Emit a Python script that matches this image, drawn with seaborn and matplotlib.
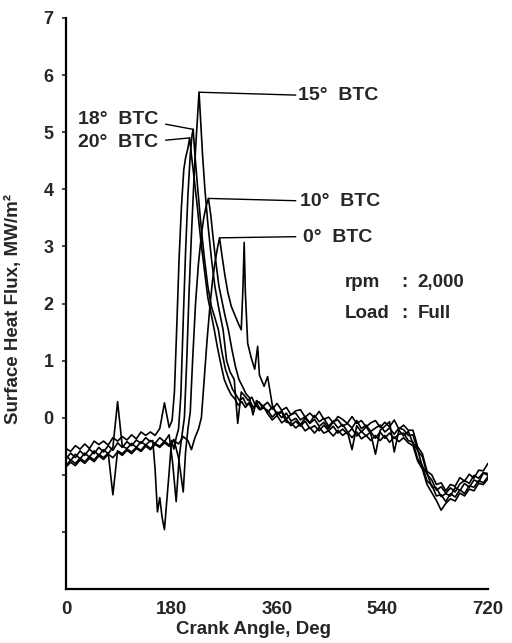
import matplotlib
matplotlib.use("Agg")
import matplotlib.pyplot as plt
import seaborn as sns
import pandas as pd
import numpy as np

# ---------------- data ----------------
tail_angles = [344, 352, 360, 368, 376, 384, 392, 400, 408, 416, 424, 432, 440, 448,
               456, 464, 472, 480, 488, 496, 504, 512, 520, 528, 536, 544, 552, 560,
               568, 576, 584, 592, 600, 608, 616, 624, 632, 640, 648, 656, 664, 672,
               680, 688, 696, 704, 712, 720]

# 20 deg BTC
angles_20 = [0, 8, 16, 24, 32, 40, 48, 56, 64, 72, 80, 88, 96, 104, 112, 120, 128, 136,
             144, 152, 160, 168, 176, 181, 185, 189, 193, 197, 201, 204, 208, 211, 214,
             218, 224, 230, 236, 242, 248, 253, 258, 264, 270, 276, 282, 288, 294, 300,
             306, 312, 318, 324, 330, 336] + tail_angles
flux_20 = [-0.54, -0.59, -0.49, -0.55, -0.46, -0.54, -0.41, -0.47, -0.41, -0.48, -0.35,
           -0.41, -0.33, -0.39, -0.30, -0.37, -0.25, -0.31, -0.25, -0.31, -0.19, 0.26,
           -0.17, -0.05, 0.45, 1.60, 2.80, 3.70, 4.35, 4.55, 4.72, 4.90, 4.60, 4.25, 3.70,
           3.10, 2.60, 2.10, 1.80, 1.54, 1.25, 0.95, 0.67, 0.52, 0.40, 0.33, 0.22, 0.28,
           0.18, 0.25, 0.15, 0.22, 0.14, 0.20,
           0.27, 0.15, 0.25, 0.13, 0.18, 0.05, 0.12, 0.14, 0.01, 0.08, 0.00, 0.11, -0.03,
           0.01, -0.09, 0.02, -0.03, -0.10, 0.02, -0.10, -0.05, -0.16, -0.09, -0.05, -0.17,
           -0.08, -0.16, -0.04, -0.20, -0.13, -0.22, -0.22, -0.51, -0.63, -0.94, -1.00,
           -1.17, -1.14, -1.28, -1.17, -1.20, -1.05, -1.11, -0.99, -1.06, -0.92, -0.93, -0.80]

# 18 deg BTC
angles_18 = [0, 8, 16, 24, 32, 40, 48, 56, 64, 72, 80, 88, 96, 104, 112, 120, 128, 136,
             144, 148, 152, 156, 160, 164, 168, 172, 176, 180, 184, 188, 192, 196, 200,
             204, 208, 212, 215, 217, 220, 224, 230, 236, 242, 248, 254, 260, 266, 272,
             278, 284, 290, 296, 302, 308, 314, 320, 326, 332, 338] + tail_angles
flux_18 = [-0.72, -0.62, -0.70, -0.58, -0.66, -0.55, -0.63, -0.52, -0.60, -0.49, -0.57,
           -0.44, -0.52, -0.42, -0.49, -0.39, -0.45, -0.35, -0.42, -0.40, -0.90, -1.65,
           -1.40, -1.75, -1.96, -1.45, -0.95, -0.40, -0.55, -0.35, -0.20, 0.40, 1.70,
           2.90, 3.90, 4.60, 4.95, 5.05, 4.60, 4.10, 3.40, 2.80, 2.30, 1.95, 1.75, 1.54,
           1.15, 0.85, 0.67, 0.50, 0.40, 0.30, 0.35, 0.22, 0.28, 0.18, 0.24, 0.14, 0.18,
           0.09, 0.19, 0.07, 0.12, -0.02, 0.06, 0.08, -0.04, 0.02, -0.09, 0.04, -0.07,
           -0.01, -0.15, -0.06, -0.04, -0.15, -0.10, -0.18, -0.05, -0.19, -0.13, -0.24,
           -0.18, -0.13, -0.25, -0.18, -0.29, -0.18, -0.21, -0.31, -0.30, -0.58, -0.68,
           -0.99, -1.09, -1.27, -1.21, -1.32, -1.23, -1.30, -1.16, -1.10, -1.15, -1.01,
           -1.06, -0.96, -0.98]

# 15 deg BTC
angles_15 = [0, 8, 16, 24, 32, 40, 48, 56, 64, 72, 80, 88, 96, 104, 112, 120, 128, 136,
             144, 152, 160, 168, 176, 182, 188, 193, 198, 202, 206, 210, 214, 218, 221,
             224, 227, 230, 233, 237, 242, 248, 254, 260, 268, 274, 280, 287, 293, 299,
             305, 311, 317, 323, 329, 335] + tail_angles
flux_15 = [-0.66, -0.75, -0.64, -0.72, -0.62, -0.69, -0.58, -0.66, -0.56, -0.63, -0.52,
           0.28, -0.50, -0.54, -0.45, -0.52, -0.42, -0.48, -0.40, -0.45, -0.35, -0.42,
           -0.30, -0.80, -1.47, -0.70, -0.30, 0.00, 1.00, 2.20, 3.20, 4.10, 4.70, 5.20,
           5.70, 5.15, 4.60, 4.00, 3.40, 2.80, 2.30, 1.95, 1.54, 1.00, 0.80, 0.67, -0.10,
           0.45, 0.38, 0.30, 0.36, 0.22, 0.28, 0.18,
           0.13, 0.01, 0.10, 0.00, 0.08, -0.06, -0.01, -0.12, -0.01, -0.10, -0.03, -0.15,
           -0.08, -0.19, -0.07, -0.18, -0.12, -0.24, -0.56, -0.14, -0.25, -0.16, -0.28,
           -0.64, -0.22, -0.15, -0.07, -0.60, -0.22, -0.32, -0.24, -0.45, -0.56, -0.86,
           -0.97, -1.21, -1.23, -1.38, -1.33, -1.37, -1.22, -1.28, -1.15, -1.22, -1.09,
           -1.13, -0.97, -1.01]

# 10 deg BTC
angles_10 = [0, 8, 16, 24, 32, 40, 48, 56, 64, 72, 80, 88, 96, 104, 112, 120, 128, 136,
             144, 152, 160, 168, 176, 184, 192, 196, 200, 204, 208, 212, 216, 221, 226,
             231, 235, 239, 243, 247, 251, 256, 261, 266, 271, 277, 283, 289, 295, 301,
             307, 313, 319, 325, 331, 337] + tail_angles
flux_10 = [-0.84, -0.74, -0.80, -0.71, -0.77, -0.68, -0.74, -0.64, -0.70, -0.62, -1.35,
           -0.58, -0.63, -0.55, -0.60, -0.52, -0.57, -0.47, -0.54, -0.45, -0.50, -0.41,
           -0.48, -0.38, -0.70, -1.00, -1.30, -0.60, -0.20, 0.10, 1.00, 2.00, 2.70, 3.20,
           3.50, 3.70, 3.84, 3.55, 3.15, 2.70, 2.30, 2.05, 1.80, 1.54, 1.20, 0.90, 0.67,
           0.55, 0.42, 0.35, 0.05, 0.30, 0.25, 0.20,
           0.07, -0.04, 0.04, -0.09, -0.03, -0.14, -0.06, -0.15, -0.06, -0.19, -0.14,
           -0.23, -0.13, -0.23, -0.15, -0.27, -0.20, -0.28, -0.19, -0.32, -0.24, -0.32,
           -0.25, -0.36, -0.25, -0.36, -0.27, -0.36, -0.29, -0.27, -0.40, -0.43, -0.72,
           -0.84, -1.11, -1.18, -1.37, -1.35, -1.47, -1.33, -1.39, -1.26, -1.33, -1.19,
           -1.22, -1.10, -1.14, -1.03]

# 0 deg BTC
angles_0 = [0, 8, 16, 24, 32, 40, 48, 56, 64, 72, 80, 88, 96, 104, 112, 120, 128, 136,
            144, 152, 160, 168, 176, 184, 192, 200, 208, 214, 220, 226, 231, 236, 241,
            246, 250, 254, 258, 262, 266, 271, 276, 282, 288, 294, 299, 302, 304, 306,
            310, 316, 322, 327, 330, 334, 338] + tail_angles
flux_0 = [-0.86, -0.78, -0.84, -0.74, -0.80, -0.71, -0.77, -0.67, -0.73, -0.64, -0.70,
          -0.60, -0.66, -0.57, -0.63, -0.54, -0.59, -0.50, -0.56, -0.47, -0.52, -0.44,
          -0.50, -0.40, -0.46, -0.33, -0.40, -0.56, -0.35, -0.20, 0.00, 0.70, 1.40, 2.00,
          2.40, 2.70, 2.95, 3.15, 2.85, 2.50, 2.20, 1.95, 1.80, 1.65, 1.54, 2.30, 3.07,
          2.20, 1.30, 1.05, 0.85, 1.25, 0.75, 0.65, 0.55,
          0.72, 0.22, 0.05, 0.10, -0.08, -0.09, -0.18, -0.11, -0.23, -0.17, -0.27, -0.17,
          -0.27, -0.23, -0.32, -0.22, -0.31, -0.25, -0.35, -0.25, -0.37, -0.31, -0.40,
          -0.31, -0.40, -0.31, -0.43, -0.34, -0.42, -0.35, -0.44, -0.49, -0.76, -0.90,
          -1.17, -1.31, -1.45, -1.62, -1.50, -1.42, -1.46, -1.32, -1.37, -1.25, -1.28,
          -1.15, -1.17, -1.07]

timings = ["20° BTC", "18° BTC", "15° BTC", "10° BTC", "0° BTC"]
x_ticks = [0, 180, 360, 540, 720]
y_ticks = [0, 1, 2, 3, 4, 5, 6, 7]

series = {
    "20° BTC": (angles_20, flux_20),
    "18° BTC": (angles_18, flux_18),
    "15° BTC": (angles_15, flux_15),
    "10° BTC": (angles_10, flux_10),
    "0° BTC": (angles_0, flux_0),
}
frames = []
for name in timings:
    a, f = series[name]
    frames.append(pd.DataFrame({"angle": a, "flux": f, "timing": name}))
df = pd.concat(frames, ignore_index=True)

# ---------------- plotting ----------------
sns.set_theme(style="white")
plt.rcParams["font.family"] = ["Liberation Sans", "DejaVu Sans"]
plt.rcParams["font.weight"] = "bold"

fig = plt.figure(figsize=(5.12, 6.43), dpi=100)
ax = fig.add_axes([66 / 512, 54 / 643, 422 / 512, 571 / 643])

sns.lineplot(data=df, x="angle", y="flux", hue="timing", units="timing",
             estimator=None, sort=False, palette={t: "black" for t in timings},
             linewidth=1.2, legend=False, ax=ax)

ax.set_xlim(0, 720)
ax.set_ylim(-3, 7)
ax.set_xticks(x_ticks)
ax.set_xticklabels([str(v) for v in x_ticks], fontsize=13.5, fontweight="bold")
ax.set_yticks([-2, -1] + y_ticks)
ax.set_yticklabels(["", ""] + [str(v) for v in y_ticks], fontsize=13, fontweight="bold")
ax.tick_params(axis="x", length=0, pad=9)
ax.tick_params(axis="y", length=3, width=1.2, pad=6, direction="out", left=True)

for s in ["top", "right"]:
    ax.spines[s].set_visible(False)
for s in ["left", "bottom"]:
    ax.spines[s].set_color("black")
    ax.spines[s].set_linewidth(1.6)

ax.set_xlabel("Crank Angle, Deg", fontsize=13.5, fontweight="bold", va="top")
ax.set_ylabel("Surface Heat Flux, MW/m²", fontsize=13.5, fontweight="bold")
ax.xaxis.set_label_coords(0.445, -0.056)
ax.yaxis.set_label_coords(-0.104, 0.49)

# ---------------- annotations with leader lines ----------------
def peak(name):
    a, f = series[name]
    i = int(np.argmax(f))
    return a[i], f[i]

label_pos = {
    "15° BTC": (396, 5.65, 392, 5.65),
    "18° BTC": (20, 5.22, 170, 5.14),
    "20° BTC": (20, 4.82, 170, 4.86),
    "10° BTC": (399, 3.78, 392, 3.80),
    "0° BTC": (404, 3.15, 392, 3.17),
}
for name, (tx, ty, lx, ly) in label_pos.items():
    px, py = peak(name)
    ax.plot([px, lx], [py, ly], color="black", linewidth=1.0)
    txt = name.replace("° ", "°  ")
    ax.text(tx, ty, txt, fontsize=14, fontweight="bold", ha="left", va="center")

ax.text(476, 2.36, "rpm", fontsize=13.5, fontweight="bold", va="center")
ax.text(572, 2.36, ":", fontsize=13.5, fontweight="bold", va="center")
ax.text(600, 2.36, "2,000", fontsize=13.5, fontweight="bold", va="center")
ax.text(476, 1.82, "Load", fontsize=13.5, fontweight="bold", va="center")
ax.text(572, 1.82, ":", fontsize=13.5, fontweight="bold", va="center")
ax.text(600, 1.82, "Full", fontsize=13.5, fontweight="bold", va="center")

fig.savefig("out.png", dpi=100)
